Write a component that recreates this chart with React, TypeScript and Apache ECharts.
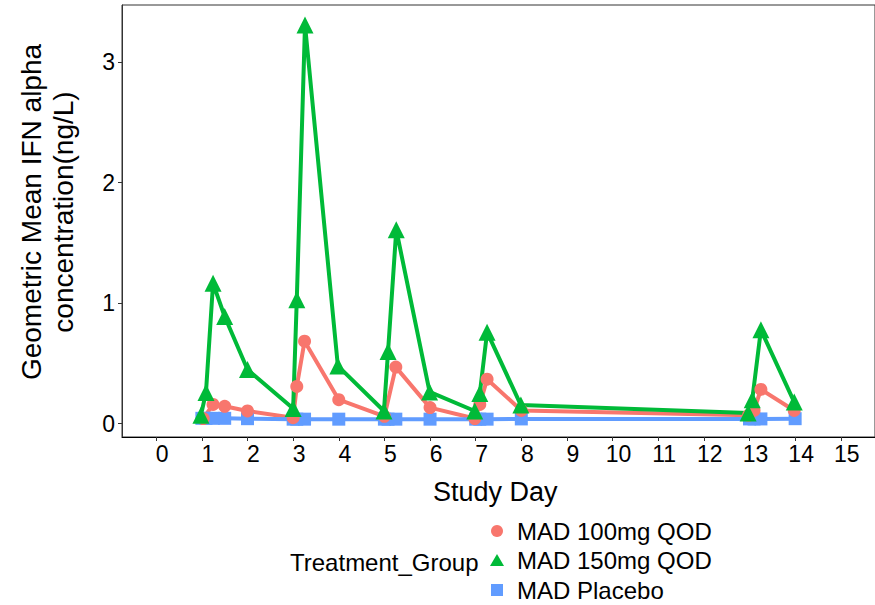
import React, { useEffect, useRef } from "react";
import * as echarts from "echarts";

const studyDay100 = [1.03, 1.245, 1.5, 2.0, 3.0, 3.08, 3.25, 4.0, 5.0, 5.25, 6.0, 6.98, 7.09, 7.25, 8.0, 12.98, 13.1, 13.25, 13.98];
const conc100 = [0.043, 0.16, 0.145, 0.106, 0.05, 0.31, 0.685, 0.2, 0.062, 0.47, 0.134, 0.043, 0.16, 0.37, 0.11, 0.07, 0.11, 0.285, 0.11];

const studyDay150 = [0.98, 1.09, 1.245, 1.5, 2.0, 3.0, 3.08, 3.26, 3.98, 4.99, 5.08, 5.26, 5.99, 6.98, 7.09, 7.25, 7.99, 12.97, 13.06, 13.25, 13.98];
const conc150 = [0.07, 0.26, 1.165, 0.89, 0.45, 0.126, 1.03, 3.31, 0.48, 0.106, 0.6, 1.61, 0.264, 0.106, 0.25, 0.76, 0.155, 0.09, 0.2, 0.78, 0.18];

const studyDayPbo = [1.0, 1.09, 1.25, 1.5, 2.0, 3.0, 3.08, 3.25, 4.0, 5.0, 5.08, 5.25, 6.0, 7.0, 7.09, 7.25, 8.0, 13.0, 13.1, 13.25, 14.0];
const concPbo = [0.045, 0.045, 0.045, 0.045, 0.042, 0.038, 0.038, 0.038, 0.038, 0.038, 0.038, 0.038, 0.038, 0.038, 0.038, 0.038, 0.04, 0.04, 0.04, 0.04, 0.042];

const xTicks = [0, 1, 2, 3, 4, 5, 6, 7, 8, 9, 10, 11, 12, 13, 14, 15];
const yTicks = [0, 1, 2, 3];

const groupNames = ["MAD 100mg QOD", "MAD 150mg QOD", "MAD Placebo"];
const groupColors = ["#F8766D", "#00BA38", "#619CFF"];

const FONT = "Liberation Sans, Arial, sans-serif";

function pairs(xs: number[], ys: number[]) {
  return xs.map((x, i) => [x, ys[i]]);
}

export default function App() {
  const ref = useRef<HTMLDivElement>(null);
  useEffect(() => {
    if (!ref.current) return;
    const chart = echarts.init(ref.current, null, { renderer: "svg" });
    const datasets = [
      pairs(studyDay100, conc100),
      pairs(studyDay150, conc150),
      pairs(studyDayPbo, concPbo),
    ];
    const symbols = ["circle", "triangle", "rect"];
    const symbolSizes = [13, 17, 13];
    const pointZ = [4, 5, 3];
    const lineSeries = datasets.map((d, i) => ({
      type: "line",
      name: "line_" + i,
      data: d,
      showSymbol: false,
      symbol: "none",
      lineStyle: { color: groupColors[i], width: 4 },
      itemStyle: { color: groupColors[i] },
      z: 2,
      silent: true,
    }));
    const pointSeries = datasets.map((d, i) => ({
      type: "scatter",
      name: groupNames[i],
      data: d,
      symbol: symbols[i],
      symbolSize: symbolSizes[i],
      itemStyle: { color: groupColors[i], opacity: 1 },
      z: pointZ[i],
    }));
    const legendRowsY = [531, 560, 590];
    const iconW = [12, 14, 12];
    const iconH = [12, 12, 12];
    const legends = groupNames.map((n, i) => ({
      data: [{ name: n, icon: symbols[i] }],
      orient: "vertical",
      left: 497 - iconW[i] / 2,
      top: legendRowsY[i] - 12,
      padding: 0,
      itemWidth: iconW[i],
      itemHeight: iconH[i],
      textStyle: {
        fontSize: 24,
        lineHeight: 24,
        color: "#000",
        fontFamily: FONT,
        padding: [0, 0, 0, 15 - iconW[i] / 2],
      },
      selectedMode: false,
    }));
    chart.setOption({
      animation: false,
      backgroundColor: "#ffffff",
      textStyle: { fontFamily: FONT },
      grid: {
        left: 122,
        top: 5,
        right: -6,
        bottom: 168,
        show: true,
        borderColor: "#333333",
        borderWidth: 1,
        backgroundColor: "transparent",
      },
      xAxis: {
        type: "value",
        min: -0.75,
        max: 15.75,
        splitLine: { show: false },
        axisLine: { show: true, onZero: false, lineStyle: { color: "#000", width: 1 } },
        axisTick: {
          show: true,
          length: 4,
          customValues: xTicks,
          lineStyle: { color: "#333", width: 1 },
        },
        axisLabel: {
          customValues: xTicks,
          fontSize: 23,
          color: "#000",
          fontFamily: FONT,
          margin: 5,
          padding: [0, 0, 0, 12],
        },
      },
      yAxis: {
        type: "value",
        min: -0.11,
        max: 3.475,
        splitLine: { show: false },
        axisLine: { show: true, onZero: false, lineStyle: { color: "#333", width: 1 } },
        axisTick: {
          show: true,
          length: 4,
          customValues: yTicks,
          lineStyle: { color: "#333", width: 1 },
        },
        axisLabel: {
          customValues: yTicks,
          fontSize: 23,
          color: "#000",
          fontFamily: FONT,
          margin: 7,
        },
      },
      legend: legends,
      graphic: [
        {
          type: "text",
          left: 433,
          top: 478,
          style: { text: "Study Day", fill: "#000", font: "27px " + FONT },
        },
        {
          type: "text",
          left: 290,
          top: 550,
          style: { text: "Treatment_Group", fill: "#000", font: "24px " + FONT },
        },
        {
          type: "text",
          x: 31,
          y: 212,
          rotation: Math.PI / 2,
          style: {
            text: "Geometric Mean IFN alpha",
            fill: "#000",
            font: "28px " + FONT,
            align: "center",
            verticalAlign: "middle",
          },
        },
        {
          type: "text",
          x: 63,
          y: 212,
          rotation: Math.PI / 2,
          style: {
            text: "concentration(ng/L)",
            fill: "#000",
            font: "28px " + FONT,
            align: "center",
            verticalAlign: "middle",
          },
        },
      ],
      series: [...lineSeries, ...pointSeries],
    });
    return () => chart.dispose();
  }, []);
  return (
    <div
      ref={ref}
      style={{ position: "fixed", left: 0, top: 0, width: 875, height: 605 }}
    />
  );
}
